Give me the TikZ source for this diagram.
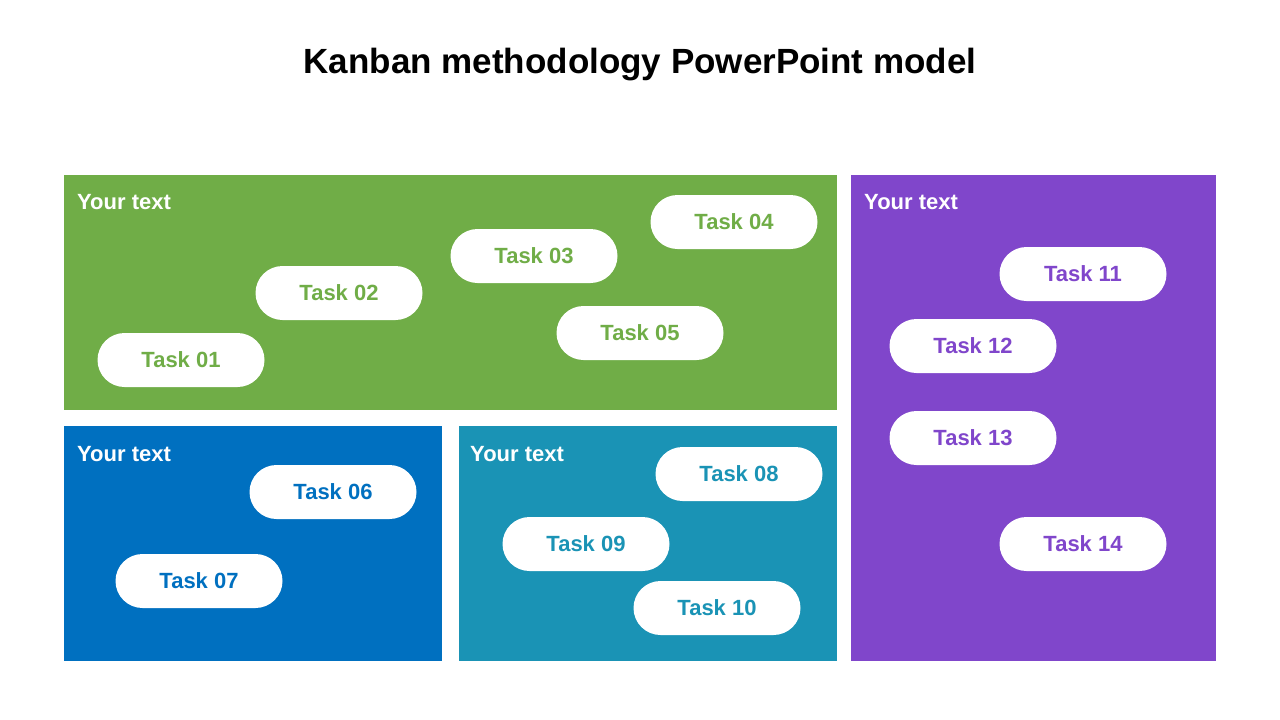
\documentclass[tikz,border=0pt]{standalone}
\usepackage{fontspec}
\setmainfont{Liberation Sans}
\definecolor{cgreen}{HTML}{70AD47}
\definecolor{cblue}{HTML}{0070C0}
\definecolor{cteal}{HTML}{1A93B5}
\definecolor{cpurple}{HTML}{8046CB}
\begin{document}
\begin{tikzpicture}[x=1pt,y=-1pt,
 pill/.style={fill=white,rounded corners=27pt,minimum width=167pt,minimum height=54pt,inner sep=0pt,font=\fontsize{22}{26}\selectfont\bfseries},
 hdr/.style={anchor=west,text=white,font=\fontsize{22}{26}\selectfont\bfseries,inner sep=0pt}]
\useasboundingbox (0,0) rectangle (1280,720);
\node[font=\fontsize{35}{40}\selectfont\bfseries] (title) at (640,65) {Kanban methodology PowerPoint model};
\fill[cgreen] (64,175) rectangle (837,410);
\fill[cblue] (64,426) rectangle (442,661);
\fill[cteal] (459,426) rectangle (837,661);
\fill[cpurple] (851,175) rectangle (1216,661);
\node[hdr] (h1) at (77,202) {Your text};
\node[hdr] (h2) at (77,454) {Your text};
\node[hdr] (h3) at (470,454) {Your text};
\node[hdr] (h4) at (864,202) {Your text};
\foreach \n/\x/\y/\c in {01/181/360/cgreen,02/339/293/cgreen,03/534/256/cgreen,04/734/222/cgreen,05/640/333/cgreen,06/333/492/cblue,07/199/581/cblue,08/739/474/cteal,09/586/544/cteal,10/717/608/cteal,11/1083/274/cpurple,12/973/346/cpurple,13/973/438/cpurple,14/1083/544/cpurple}
 \node[pill,text=\c] (t\n) at (\x,\y) {Task \n};
\end{tikzpicture}
\end{document}
